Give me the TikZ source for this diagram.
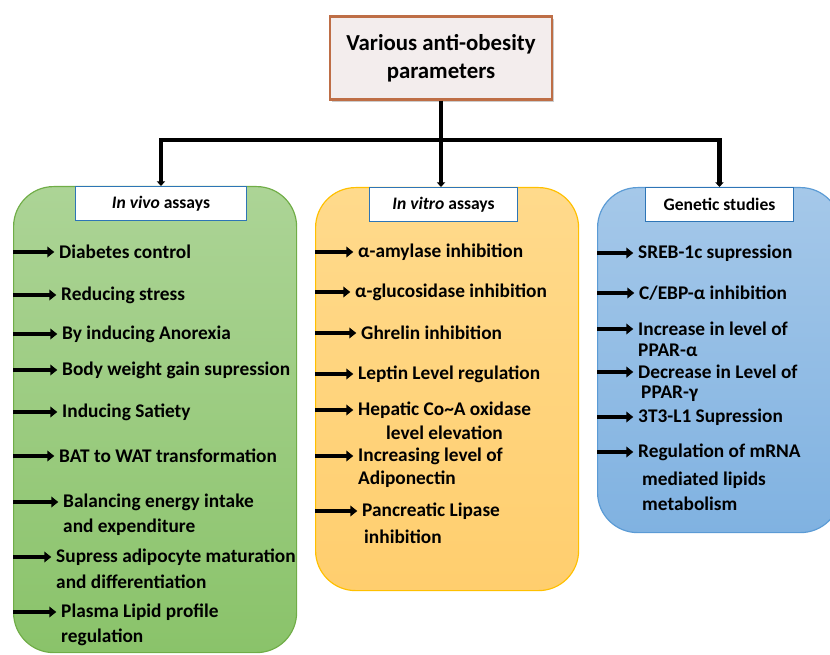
\documentclass[tikz,border=0pt]{standalone}
\usepackage{fontspec}
\setmainfont{Carlito}
\usetikzlibrary{arrows.meta,shadows}
\definecolor{vivotop}{RGB}{172,212,150}
\definecolor{vivobot}{RGB}{138,195,106}
\definecolor{vivoline}{RGB}{112,173,71}
\definecolor{vitrotop}{RGB}{255,218,140}
\definecolor{vitrobot}{RGB}{255,206,110}
\definecolor{vitroline}{RGB}{255,192,0}
\definecolor{gentop}{RGB}{165,200,233}
\definecolor{genbot}{RGB}{128,178,225}
\definecolor{genline}{RGB}{91,155,213}
\definecolor{headline}{RGB}{46,117,182}
\definecolor{titlefill}{RGB}{243,237,237}
\definecolor{titleline}{RGB}{190,110,70}
\begin{document}
\begin{tikzpicture}[x=0.03cm, y=-0.03cm,
  every node/.style={font=\bfseries\fontsize{16.5}{19}\selectfont},
  panel/.style={draw, line width=1pt, rounded corners=1.2cm, anchor=north west, inner sep=0pt},
  head/.style={draw=headline, fill=white, line width=0.8pt, anchor=north west, minimum height=1.02cm,
    font=\bfseries\fontsize{15}{17}\selectfont},
  item/.style={anchor=west, inner sep=0pt},
  pointer/.style={line width=3.5pt, -{Triangle[length=6pt,width=9pt]}, shorten >=4pt},
  branch/.style={line width=3.5pt, {Triangle[length=4pt,width=7pt]}-{Triangle[length=4pt,width=7pt]}},
  ]
\useasboundingbox (0,0) rectangle (830,655);

% title
\node[draw=titleline, line width=1.8pt, fill=titlefill, minimum width=6.66cm, minimum height=2.49cm, align=center,
  drop shadow={shadow xshift=2pt, shadow yshift=-2pt, opacity=0.4},
  font=\bfseries\fontsize{19.5}{24}\selectfont] (title) at (441,58) {Various anti-obesity\\parameters};

% panels
\node[panel, draw=vivoline, top color=vivotop, bottom color=vivobot, minimum width=8.49cm, minimum height=13.98cm] (vivo) at (13,186) {};
\node[panel, draw=vitroline, top color=vitrotop, bottom color=vitrobot, minimum width=7.89cm, minimum height=12.09cm] (vitro) at (315,187) {};
\node[panel, draw=genline, top color=gentop, bottom color=genbot, minimum width=7.29cm, minimum height=10.35cm] (gen) at (597,187) {};

\node[head, minimum width=5.13cm] (vivohead) at (75,186) {\textit{In vivo} assays};
\node[head, minimum width=4.44cm] (vitrohead) at (369,187) {\textit{In vitro} assays};
\node[head, minimum width=4.44cm] (genhead) at (645,187) {Genetic studies};

% tree
\coordinate (hub) at (441,140);
\draw[line width=3.5pt] (title.south) -- (hub);
\draw[branch] (vivohead.north) -- (vivohead.north |- hub) -- (genhead.north |- hub) -- (genhead.north);
\draw[line width=3.5pt, -{Triangle[length=4pt,width=7pt]}] (hub) -- (hub |- vitrohead.north);

% in vivo
\node[item] (g1) at (59,252) {Diabetes control};
\node[item] (g2) at (61,295) {Reducing stress};
\node[item] (g3) at (62,334) {By inducing Anorexia};
\node[item] (g4) at (62,370) {Body weight gain supression};
\node[item] (g5) at (62,412) {Inducing Satiety};
\node[item] (g6) at (59,456) {BAT to WAT transformation};
\node[item] (g7) at (63,502) {Balancing energy intake};
\node[item] (g7b) at (63,527) {and expenditure};
\node[item] (g8) at (56,557) {Supress adipocyte maturation};
\node[item] (g8b) at (56,582) {and differentiation};
\node[item] (g9) at (61,612) {Plasma Lipid profile};
\node[item] (g9b) at (61,637) {regulation};
\foreach \n in {g1,g2,g3,g4,g5,g6,g7,g8,g9}
  \draw[pointer] (vivo.west |- \n.west) -- (\n.west);

% in vitro
\node[item] (o1) at (358,252) {α-amylase inhibition};
\node[item] (o2) at (355,292) {α-glucosidase inhibition};
\node[item] (o3) at (361,333) {Ghrelin inhibition};
\node[item] (o4) at (358,374) {Leptin Level regulation};
\node[item] (o5) at (358,410) {Hepatic Co\textasciitilde A oxidase};
\node[item] (o5b) at (386,433) {level elevation};
\node[item] (o6) at (358,456) {Increasing level of};
\node[item] (o6b) at (358,479) {Adiponectin};
\node[item] (o7) at (362,511) {Pancreatic Lipase};
\node[item] (o7b) at (364,537) {inhibition};
\foreach \n in {o1,o2,o3,o4,o5,o6,o7}
  \draw[pointer] (vitro.west |- \n.west) -- (\n.west);

% genetic
\node[item] (b1) at (638,253) {SREB-1c supression};
\node[item] (b2) at (639,293) {C/EBP-α inhibition};
\node[item] (b3) at (638,329) {Increase in level of};
\node[item] (b3b) at (638,350) {PPAR-α};
\node[item] (b4) at (638,372) {Decrease in Level of};
\node[item] (b4b) at (641,394) {PPAR-γ};
\node[item] (b5) at (638,417) {3T3-L1 Supression};
\node[item] (b6) at (638,452) {Regulation of mRNA};
\node[item] (b6b) at (642,480) {mediated lipids};
\node[item] (b6c) at (642,504) {metabolism};
\foreach \n in {b1,b2,b3,b4,b5,b6}
  \draw[pointer] (gen.west |- \n.west) -- (\n.west);
\end{tikzpicture}
\end{document}
